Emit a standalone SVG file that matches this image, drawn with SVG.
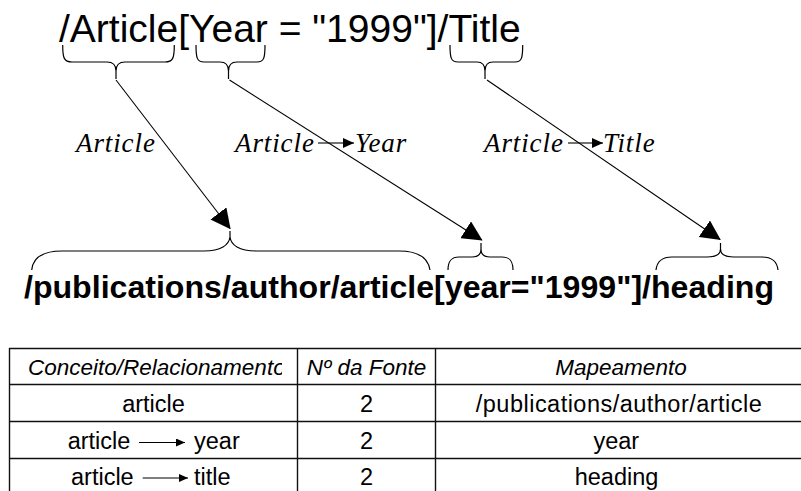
<svg xmlns="http://www.w3.org/2000/svg" width="801" height="491" viewBox="0 0 801 491">
  <style>
    .query { font-family: "Liberation Sans", Arial, sans-serif; font-size: 39px; fill: #000; }
    .target { font-family: "Liberation Sans", Arial, sans-serif; font-size: 32px; font-weight: bold; fill: #000; }
    .label { font-family: "Liberation Serif", "Times New Roman", serif; font-style: italic; font-size: 27px; letter-spacing: 0.9px; fill: #000; }
    .brace { fill: none; stroke: #000; stroke-width: 1.2; }
    .link { fill: none; stroke: #000; stroke-width: 1.1; }
    .rel { fill: none; stroke: #444; stroke-width: 1.6; }
    .grid { fill: none; stroke: #111; stroke-width: 1.4; }
    .th { font-family: "Liberation Sans", Arial, sans-serif; font-style: italic; font-size: 22.5px; fill: #000; }
    .td { font-family: "Liberation Sans", Arial, sans-serif; font-size: 23.5px; fill: #000; }
    .mid { text-anchor: middle; }
    .tarrow { fill: none; stroke: #000; stroke-width: 1.1; }
  </style>
  <defs>
    <marker id="bigHead" viewBox="0 0 20 20" refX="19" refY="10" markerWidth="20" markerHeight="20" markerUnits="userSpaceOnUse" orient="auto">
      <path d="M0,0 L20,10 L0,20 z" fill="#000"/>
    </marker>
    <marker id="smallHead" viewBox="0 0 11 10" refX="11" refY="5" markerWidth="11" markerHeight="10" markerUnits="userSpaceOnUse" orient="auto">
      <path d="M0,0 L11,5 L0,10 z" fill="#000"/>
    </marker>
    <marker id="tinyHead" viewBox="0 0 9 8" refX="9" refY="4" markerWidth="9" markerHeight="8" markerUnits="userSpaceOnUse" orient="auto">
      <path d="M0,0 L9,4 L0,8 z" fill="#000"/>
    </marker>
    <clipPath id="clipConceito">
      <rect x="10" y="349" width="272" height="35"/>
    </clipPath>
  </defs>

  <!-- source query -->
  <g id="query">
    <text class="query" x="59" y="42">/Article[Year = "1999"]/Title</text>
    <path class="brace" d="M62.7,45 C62.7,58 64,62 72,62 L107,62 C113,62 116,65 116,71 L116,79 M116,71 C116,65 119,62 125,62 L165,62 C173,62 174.3,58 174.3,45"/>
    <path class="brace" d="M196,45 C196,58 197,62 204,62 L220,62 C226,62 228.5,65 228.5,71 L228.5,79 M228.5,71 C228.5,65 231,62 237,62 L257,62 C264,62 265,58 265,45"/>
    <path class="brace" d="M450,45 C450,58 451,62 458,62 L477,62 C483,62 485,65 485,71 L485,79 M485,71 C485,65 487,62 493,62 L515,62 C521.7,62 522.7,58 522.7,45"/>
  </g>

  <!-- target path -->
  <g id="target">
    <text class="target" x="24" y="298" textLength="750" lengthAdjust="spacingAndGlyphs">/publications/author/article[year="1999"]/heading</text>
    <path class="brace" d="M31.7,270 C33,257 44,251 62,251 L204,251 C221,251 229,245 230,237 L230,231 M230,237 C231,245 239,251 256,251 L399,251 C417,251 428,257 430,270"/>
    <path class="brace" d="M448,270 C448,261 451,257 459,257 L472,257 C478,257 481,254 481,249 L481,243 M481,249 C481,254 484,257 490,257 L502,257 C510,257 513,261 513,270"/>
    <path class="brace" d="M656,270 C657,261 662,257 672,257 L707,257 C716,257 720.5,254 720.5,249 L720.5,243 M720.5,249 C720.5,254 725,257 734,257 L762,257 C772,257 777,261 778,270"/>
  </g>

  <!-- mapping labels -->
  <g id="label-article">
    <text class="label" x="76" y="152">Article</text>
  </g>
  <g id="label-article-year">
    <text class="label" x="235" y="152">Article</text>
    <line class="rel" x1="318" y1="143" x2="354" y2="143" marker-end="url(#smallHead)"/>
    <text class="label" x="355" y="152">Year</text>
  </g>
  <g id="label-article-title">
    <text class="label" x="484" y="152">Article</text>
    <line class="rel" x1="568" y1="143" x2="603" y2="143" marker-end="url(#smallHead)"/>
    <text class="label" x="603" y="152">Title</text>
  </g>

  <!-- connectors from query parts to target parts -->
  <g id="connectors">
    <line class="link" x1="116" y1="80" x2="230" y2="228.5" marker-end="url(#bigHead)"/>
    <line class="link" x1="229.5" y1="80" x2="481.7" y2="240" marker-end="url(#bigHead)"/>
    <line class="link" x1="487" y1="80" x2="720" y2="239.5" marker-end="url(#bigHead)"/>
  </g>

  <!-- mapping table -->
  <g id="table">
    <path class="grid" d="M9,348.5 H801 M9,384.5 H801 M9,421.5 H801 M9,458.5 H801 M9.5,348 V491 M297.5,348 V491 M435.5,348 V491"/>

    <g id="table-header">
      <text class="th" x="28" y="375" clip-path="url(#clipConceito)">Conceito/Relacionamento</text>
      <text class="th mid" x="366.5" y="375">Nº da Fonte</text>
      <text class="th mid" x="621" y="375">Mapeamento</text>
    </g>

    <g id="row-article">
      <text class="td mid" x="153.5" y="412">article</text>
      <text class="td mid" x="366.5" y="412">2</text>
      <text class="td mid" x="618.8" y="412" textLength="286" lengthAdjust="spacing">/publications/author/article</text>
    </g>

    <g id="row-article-year">
      <text class="td" x="67.7" y="449">article</text>
      <line class="tarrow" x1="139" y1="442.5" x2="185" y2="442.5" marker-end="url(#tinyHead)"/>
      <text class="td" x="194" y="449">year</text>
      <text class="td mid" x="366.5" y="449">2</text>
      <text class="td mid" x="616.3" y="449">year</text>
    </g>

    <g id="row-article-title">
      <text class="td" x="71" y="485">article</text>
      <line class="tarrow" x1="142.7" y1="478" x2="188" y2="478" marker-end="url(#tinyHead)"/>
      <text class="td" x="194" y="485">title</text>
      <text class="td mid" x="366.5" y="485">2</text>
      <text class="td mid" x="616.5" y="485">heading</text>
    </g>
  </g>
</svg>
